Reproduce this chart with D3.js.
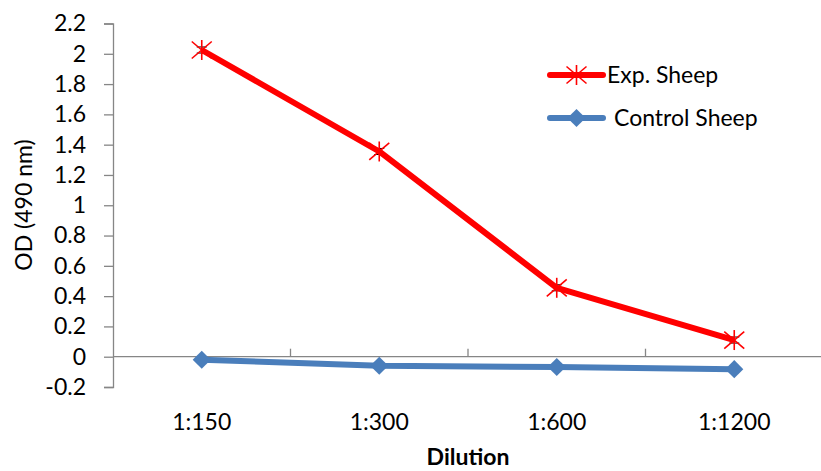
<!DOCTYPE html>
<html>
<head>
<meta charset="utf-8">
<script src="https://cdn.jsdelivr.net/npm/d3@7"></script>
<style>
  body { margin: 0; background: #fff; }
  svg { display: block; font-family: Lato, "Open Sans", sans-serif; }
</style>
</head>
<body>
<svg id="chart" width="821" height="471"></svg>
<script>
// Dilution series and measured optical density
const dilutions = ["1:150", "1:300", "1:600", "1:1200"];
const expSheep = [2.025, 1.355, 0.455, 0.11];
const expErr = [0.02, 0.02, 0.02, 0.02];
const controlSheep = [-0.02, -0.06, -0.068, -0.082];
const yTicks = [-0.2, 0, 0.2, 0.4, 0.6, 0.8, 1, 1.2, 1.4, 1.6, 1.8, 2, 2.2];
const seriesNames = ["Exp. Sheep", "Control Sheep"];

const svg = d3.select("#chart");
const plotLeft = 113, plotRight = 823, plotTop = 23.5, plotBottom = 387;
const fontSize = 23;
const font = "Lato, 'Open Sans', sans-serif";

const x = d3.scaleBand().domain(dilutions).range([plotLeft, plotRight]);
const y = d3.scaleLinear().domain([-0.2, 2.2]).range([plotBottom, plotTop]);
const axisColor = "#868686";

// Y axis
const yAxis = svg.append("g").attr("transform", `translate(${plotLeft},0)`)
  .call(d3.axisLeft(y).tickValues(yTicks).tickSize(9).tickPadding(18));
yAxis.select(".domain").attr("stroke", axisColor).attr("stroke-width", 1.3);
yAxis.selectAll(".tick line").attr("stroke", axisColor).attr("stroke-width", 1.3);
yAxis.selectAll(".tick text").attr("font-size", fontSize).attr("fill", "#000")
  .attr("font-family", font)
  .text(d => (d < 0 ? "-" : "") + d3.format("")(Math.abs(Math.round(d * 10) / 10)));

// X axis at zero with boundary ticks pointing up
const y0 = y(0);
svg.append("line").attr("x1", plotLeft).attr("x2", plotRight).attr("y1", y0).attr("y2", y0)
  .attr("stroke", axisColor).attr("stroke-width", 1.3);
const bounds = dilutions.map(d => x(d)).concat([plotRight]);
svg.append("g").selectAll("line").data(bounds.slice(1)).join("line")
  .attr("x1", d => d).attr("x2", d => d).attr("y1", y0).attr("y2", y0 - 8)
  .attr("stroke", axisColor).attr("stroke-width", 1.3);

// Category labels
svg.append("g").selectAll("text").data(dilutions).join("text")
  .attr("x", d => x(d) + x.bandwidth() / 2).attr("y", 430)
  .attr("text-anchor", "middle").attr("font-size", fontSize).attr("fill", "#000")
  .text(d => d);

// Axis titles
svg.append("text").attr("x", 468).attr("y", 465).attr("text-anchor", "middle")
  .attr("font-size", fontSize).attr("font-weight", "bold").text("Dilution");
svg.append("text").attr("transform", `translate(32,205) rotate(-90)`)
  .attr("text-anchor", "middle").attr("font-size", fontSize).text("OD (490 nm)");

const cx = d => x(d) + x.bandwidth() / 2;
const line = d3.line();

// Control series
const blue = "#4A7EBB";
svg.append("path").datum(dilutions.map((d, i) => [cx(d), y(controlSheep[i])]))
  .attr("d", line).attr("fill", "none").attr("stroke", blue).attr("stroke-width", 6)
  .attr("stroke-linejoin", "round");
const diamond = d3.symbol().type(d3.symbolDiamond2).size(210);
svg.append("g").selectAll("path").data(dilutions).join("path")
  .attr("transform", (d, i) => `translate(${cx(d)},${y(controlSheep[i])})`)
  .attr("d", diamond).attr("fill", blue);

// Experimental series error bars
const errG = svg.append("g");
dilutions.forEach((d, i) => {
  const xx = cx(d), hi = y(expSheep[i] + expErr[i]), lo = y(expSheep[i] - expErr[i]);
  errG.append("line").attr("x1", xx).attr("x2", xx).attr("y1", hi).attr("y2", lo).attr("stroke", "#000").attr("stroke-width", 1);
  [hi, lo].forEach(yy => errG.append("line").attr("x1", xx - 5).attr("x2", xx + 5)
    .attr("y1", yy).attr("y2", yy).attr("stroke", "#000").attr("stroke-width", 1));
});

// Experimental series
const red = "#FF0000";
svg.append("path").datum(dilutions.map((d, i) => [cx(d), y(expSheep[i])]))
  .attr("d", line).attr("fill", "none").attr("stroke", red).attr("stroke-width", 6)
  .attr("stroke-linejoin", "round");

function star(g, px, py, r) {
  const s = g.append("g").attr("transform", `translate(${px},${py})`)
    .attr("stroke", red).attr("stroke-width", 1.6);
  s.append("line").attr("x1", 0).attr("x2", 0).attr("y1", -r).attr("y2", r);
  s.append("line").attr("x1", -r).attr("x2", r).attr("y1", -r * 0.85).attr("y2", r * 0.85);
  s.append("line").attr("x1", -r).attr("x2", r).attr("y1", r * 0.85).attr("y2", -r * 0.85);
}
const starG = svg.append("g");
dilutions.forEach((d, i) => star(starG, cx(d), y(expSheep[i]), 10));

// Legend
const legend = svg.append("g");
legend.append("line").attr("x1", 550).attr("x2", 603).attr("y1", 75).attr("y2", 75)
  .attr("stroke", red).attr("stroke-width", 6).attr("stroke-linecap", "round");
star(legend, 576.5, 75, 10);
legend.append("text").attr("x", 607).attr("y", 83).attr("font-size", fontSize).text(seriesNames[0]);
legend.append("line").attr("x1", 550).attr("x2", 603).attr("y1", 118).attr("y2", 118)
  .attr("stroke", blue).attr("stroke-width", 6).attr("stroke-linecap", "round");
legend.append("path").attr("transform", "translate(576.5,118)").attr("d", diamond).attr("fill", blue);
legend.append("text").attr("x", 614).attr("y", 126).attr("font-size", fontSize).text(seriesNames[1]);
</script>
</body>
</html>
